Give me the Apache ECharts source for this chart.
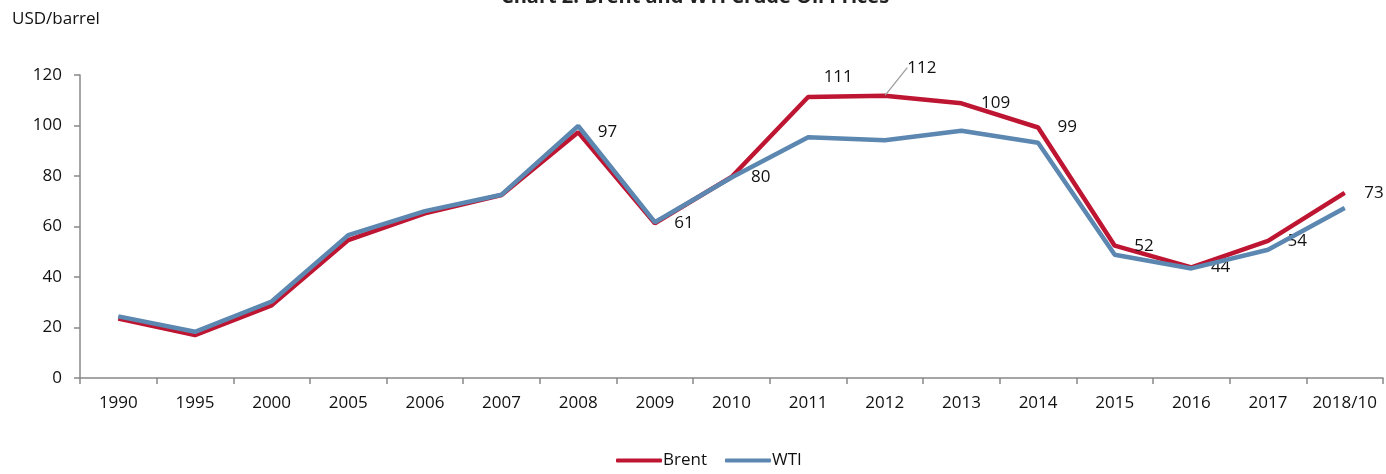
<!DOCTYPE html>
<html>
<head>
<meta charset="utf-8">
<script src="https://cdn.jsdelivr.net/npm/echarts@6/dist/echarts.min.js"></script>
<style>
  html, body { margin: 0; padding: 0; background: #fff; }
  #chart { width: 1386px; height: 474px; }
</style>
</head>
<body>
<div id="chart"></div>
<script>
const years = ['1990', '1995', '2000', '2005', '2006', '2007', '2008', '2009', '2010', '2011', '2012', '2013', '2014', '2015', '2016', '2017', '2018/10']
const brent = [23.5, 17, 28.8, 54.6, 65.2, 72.5, 97.3, 61.3, 79.6, 111.3, 111.8, 108.8, 99.2, 52.4, 43.8, 54.3, 73.3]
const wti = [24.4, 18.3, 30.3, 56.6, 66.1, 72.6, 99.8, 61.7, 79.4, 95.3, 94.2, 97.9, 93.2, 48.8, 43.4, 50.8, 67.3]
// which brent points get a value label
const brentLabelled = [false, false, false, false, false, false, true, true, true, true, true, true, true, true, true, true, true]

const font = 'Open Sans'
const chart = echarts.init(document.getElementById('chart'))

const brentData = brent.map((v, i) => {
  const item = { value: v }
  if (!brentLabelled[i]) item.label = { show: false }
  if (years[i] === '2012') item.labelLine = { show: true }
  return item
})

const option = {
  animation: false,
  title: {
    text: 'Chart 2: Brent and WTI Crude Oil Prices',
    left: 690,
    textAlign: 'center',
    top: -18,
    textStyle: { fontFamily: font, fontSize: 20, fontWeight: 'bold', color: '#222' },
  },
  graphic: [{
    type: 'text',
    left: 12,
    top: 11,
    style: { text: 'USD/barrel', fontFamily: font, fontSize: 17, fill: '#111' },
  }],
  legend: {
    top: 452,
    left: 616,
    padding: 0,
    itemWidth: 46,
    itemHeight: 4,
    itemGap: 18,
    textStyle: { fontFamily: font, fontSize: 17, color: '#111', padding: [0, 0, 0, -4] },
    data: [
      { name: 'Brent', icon: 'roundRect' },
      { name: 'WTI', icon: 'roundRect' },
    ],
  },
  grid: { left: 80, right: 3, top: 75, bottom: 96, containLabel: false },
  xAxis: {
    type: 'category',
    data: years,
    boundaryGap: true,
    axisLine: { lineStyle: { color: '#888', width: 1.5 } },
    axisTick: { show: true, interval: 0, length: 6, lineStyle: { color: '#888', width: 1.5 } },
    axisLabel: { interval: 0, fontFamily: font, fontSize: 17, color: '#111', margin: 17 },
  },
  yAxis: {
    type: 'value',
    min: 0,
    max: 120,
    interval: 20,
    axisLine: { show: true, lineStyle: { color: '#888', width: 1.5 } },
    axisTick: { show: true, length: 6, lineStyle: { color: '#888', width: 1.5 } },
    splitLine: { show: false },
    axisLabel: { fontFamily: font, fontSize: 17, color: '#111', margin: 18 },
  },
  series: [
    {
      name: 'Brent',
      type: 'line',
      data: brentData,
      color: '#be1632',
      symbol: 'circle',
      symbolSize: 1,
      lineStyle: { width: 4.5, color: '#be1632' },
      label: {
        show: true,
        position: 'right',
        distance: 19,
        fontFamily: font,
        fontSize: 17,
        color: '#111',
        formatter: p => Math.round(p.value),
      },
      labelLine: { show: false, lineStyle: { color: '#999', width: 1.2 } },
      labelLayout(params) {
        if (params.dataIndex === 9) return { dx: -4, dy: -20 }
        if (params.dataIndex === 10) return { dx: 3, dy: -28 }
        return {}
      },
      z: 2,
    },
    {
      name: 'WTI',
      type: 'line',
      data: wti,
      color: '#5b87b0',
      symbol: 'circle',
      symbolSize: 1,
      lineStyle: { width: 4.5, color: '#5b87b0' },
      z: 3,
    },
  ],
}
chart.setOption(option)
</script>
</body>
</html>
